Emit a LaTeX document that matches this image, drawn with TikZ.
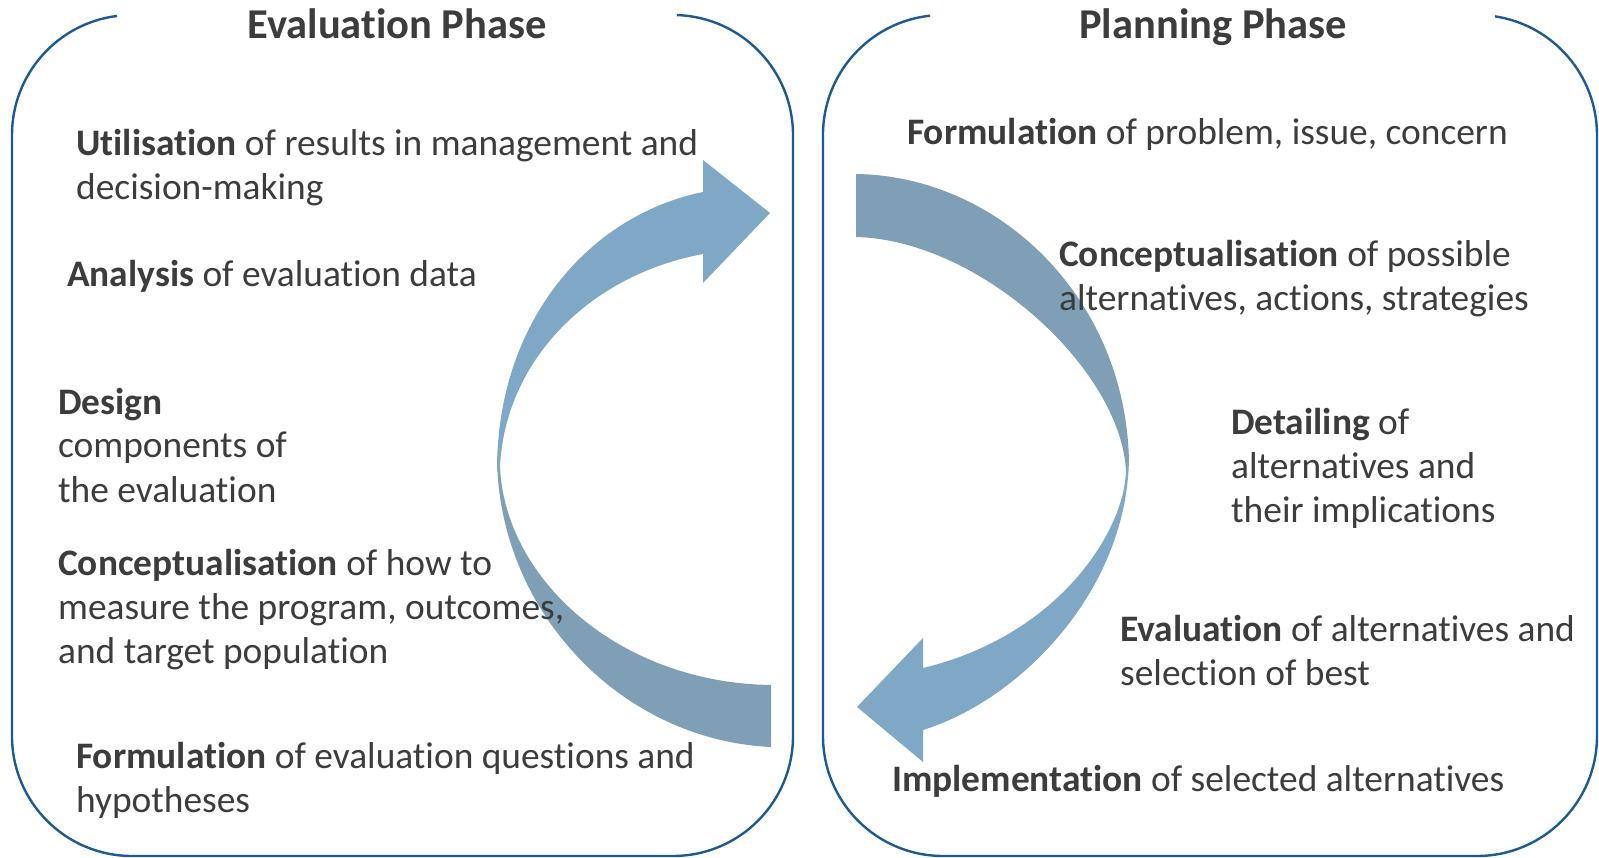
\documentclass[tikz,border=0pt]{standalone}
\usepackage{fontspec}
\setmainfont{Carlito}[Ligatures=NoCommon]
\definecolor{boxblue}{HTML}{1D5A94}
\definecolor{txt}{HTML}{3C3C3C}
\definecolor{banddark}{HTML}{7F9FB6}
\definecolor{bandlight}{HTML}{7FA8C6}
\begin{document}
\begin{tikzpicture}[x=1pt,y=-1pt,
  phasebox/.style={draw=boxblue,line width=2.4pt},
  title/.style={font=\fontsize{42.5}{50}\selectfont\bfseries,text=txt,inner sep=0pt,anchor=base},
  item/.style={font=\fontsize{37.4}{44}\selectfont,text=txt,inner sep=0pt,anchor=base west,align=left}]
\useasboundingbox (0,0) rectangle (1599,858);

% Evaluation phase frame (open at the top for the title)
\draw[phasebox] (116.96,15.95) arc[start angle=262.8,end angle=180,radius=120]
  -- (12,736) arc[start angle=180,end angle=90,radius=120]
  -- (673,856) arc[start angle=90,end angle=0,radius=120]
  -- (793,135) arc[start angle=0,end angle=-88.1,radius=120];

% Planning phase frame
\draw[phasebox] (930,15.7) arc[start angle=263.8,end angle=180,radius=120]
  -- (823,736) arc[start angle=180,end angle=90,radius=120]
  -- (1477,856) arc[start angle=90,end angle=0,radius=120]
  -- (1597,135) arc[start angle=0,end angle=-81.4,radius=120];

% Evaluation cycle arrow: rear (lower) band
\fill[banddark] (771,747) -- (771,685)
  .. controls (620,683) and (505,580) .. (500,467)
  -- (497,455)
  .. controls (497,610) and (620,740) .. (771,747) -- cycle;
% front (upper) band with head
\fill[bandlight] (497,470)
  .. controls (497,320) and (590,215) .. (703,192)
  -- (703,160) -- (770,213) -- (703,283) -- (703,254)
  .. controls (590,275) and (505,360) .. (500,467) -- cycle;

% Planning cycle arrow: rear (upper) band
\fill[banddark] (856,174)
  .. controls (1000,176) and (1128,300) .. (1129,465)
  -- (1126,472)
  .. controls (1122,370) and (980,240) .. (856,237) -- cycle;
% front (lower) band with head
\fill[bandlight] (1129,455)
  .. controls (1129,590) and (1020,700) .. (923,730)
  -- (923,762) -- (857,707) -- (923,638) -- (923,668)
  .. controls (1060,635) and (1125,530) .. (1126,470) -- cycle;

% Titles
\node[title] (evalTitle) at (397,39) {Evaluation Phase};
\node[title] (planTitle) at (1213,39) {Planning Phase};

% Evaluation phase steps (anchored at the baseline of the last line)
\node[item] (utilisation) at (76,200) {\textbf{Utilisation} of results in management and\\decision-making};
\node[item] (analysis) at (67,287) {\textbf{Analysis} of evaluation data};
\node[item] (design) at (58,502) {\textbf{Design}\\components of\\the evaluation};
\node[item] (conceptEval) at (58,663) {\textbf{Conceptualisation} of how to\\measure the program, outcomes,\\and target population};
\node[item] (formEval) at (76,812) {\textbf{Formulation} of evaluation questions and\\hypotheses};

% Planning phase steps
\node[item] (formPlan) at (907,145) {\textbf{Formulation} of problem, issue, concern};
\node[item] (conceptPlan) at (1059,311) {\textbf{Conceptualisation} of possible\\alternatives, actions, strategies};
\node[item] (detailing) at (1231,522) {\textbf{Detailing} of\\alternatives and\\their implications};
\node[item] (evalPlan) at (1120,685) {\textbf{Evaluation} of alternatives and\\selection of best};
\node[item] (implement) at (892,791) {\textbf{Implementation} of selected alternatives};
\end{tikzpicture}
\end{document}
